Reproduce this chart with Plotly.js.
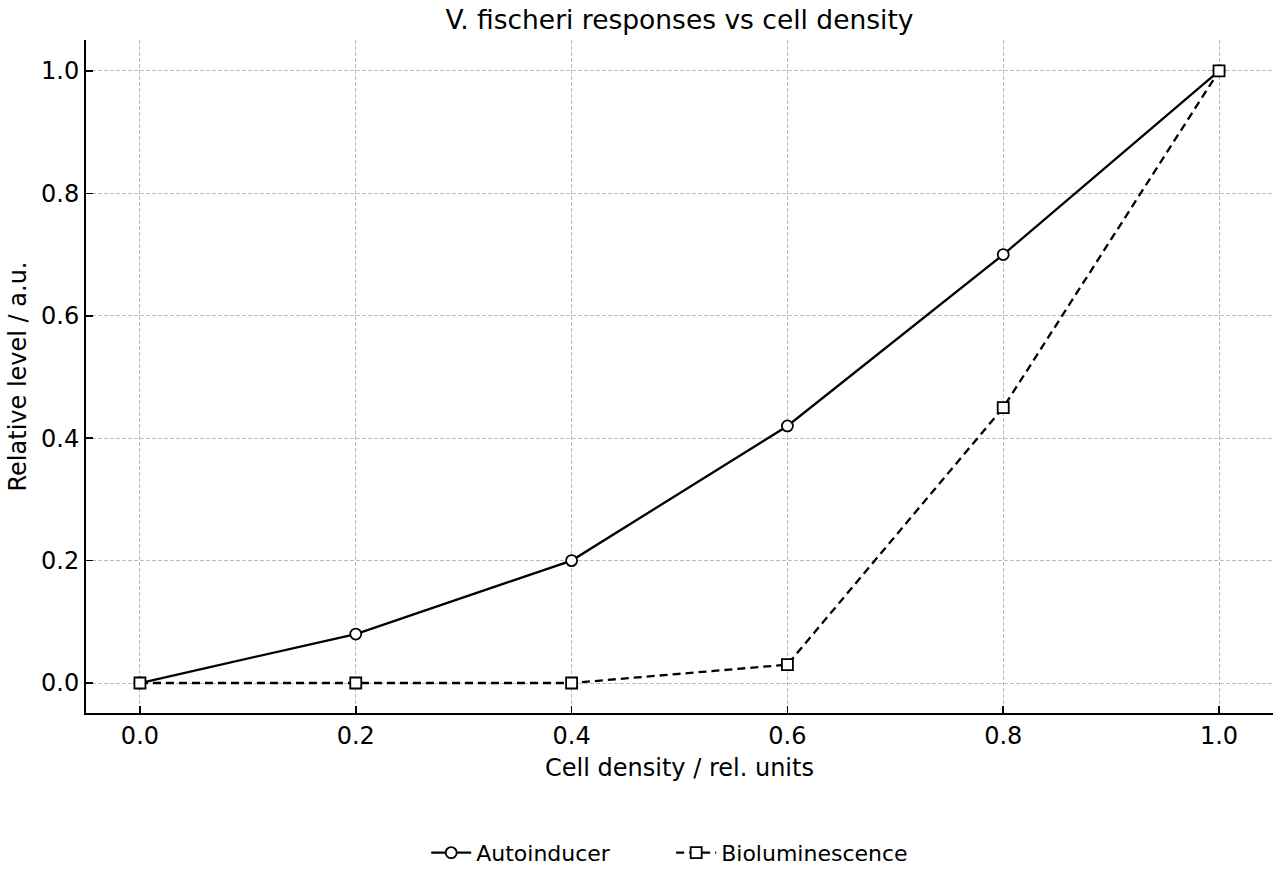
<!DOCTYPE html>
<html>
<head>
<meta charset="utf-8">
<script src="https://cdn.plot.ly/plotly-3.0.1.min.js"></script>
<style>html,body{margin:0;padding:0;background:#fff;}#chart{width:1280px;height:880px;}</style>
</head>
<body>
<div id="chart"></div>
<script>
const cellDensity = [0.0, 0.2, 0.4, 0.6, 0.8, 1.0];
const autoinducer = [0.0, 0.08, 0.20, 0.42, 0.70, 1.0];
const bioluminescence = [0.0, 0.0, 0.0, 0.03, 0.45, 1.0];
const tickVals = [0.0, 0.2, 0.4, 0.6, 0.8, 1.0];
const tickText = ['0.0', '0.2', '0.4', '0.6', '0.8', '1.0'];

const font = 'DejaVu Sans, sans-serif';

const traces = [
  {
    x: cellDensity, y: autoinducer, name: 'Autoinducer',
    mode: 'lines+markers', type: 'scatter',
    line: {color: '#000', width: 2.3},
    marker: {symbol: 'circle', size: 11, color: '#fff', line: {color: '#000', width: 1.8}}
  },
  {
    x: cellDensity, y: bioluminescence, name: 'Bioluminescence',
    mode: 'lines+markers', type: 'scatter',
    line: {color: '#000', width: 2.3, dash: '8px,5px'},
    marker: {symbol: 'square', size: 11, color: '#fff', line: {color: '#000', width: 1.8}}
  }
];

const axisCommon = {
  showline: true, linecolor: '#000', linewidth: 2,
  ticks: 'inside', ticklen: 7, tickwidth: 1.5, tickcolor: '#000',
  showgrid: true, gridcolor: '#bdbdbd', gridwidth: 1, griddash: '4px,2px',
  zeroline: false, mirror: false,
  tickfont: {family: font, size: 24, color: '#000'},
  tickvals: tickVals, ticktext: tickText
};

const layout = {
  width: 1280, height: 880,
  paper_bgcolor: '#fff', plot_bgcolor: '#fff',
  margin: {l: 86, r: 7, t: 40, b: 166},
  font: {family: font, color: '#000'},
  title: {text: 'V. fischeri responses vs cell density', font: {family: font, size: 26.5, color: '#000'},
    xref: 'paper', x: 0.5, xanchor: 'center', y: 0.978, yanchor: 'middle'},
  xaxis: Object.assign({}, axisCommon, {
    range: [-0.05, 1.05],
    title: {text: 'Cell density / rel. units', font: {family: font, size: 24, color: '#000'}, standoff: 10}
  }),
  yaxis: Object.assign({}, axisCommon, {
    range: [-0.049, 1.0506],
    title: {text: 'Relative level / a.u.', font: {family: font, size: 24, color: '#000'}, standoff: 8}
  }),
  showlegend: true,
  legend: {orientation: 'h', x: 0.493, xanchor: 'center', y: -0.206, yanchor: 'middle',
    font: {family: font, size: 22, color: '#000'}, bgcolor: 'rgba(0,0,0,0)', itemwidth: 40,
    entrywidth: 190, entrywidthmode: 'pixels'}
};

Plotly.newPlot('chart', traces, layout, {displayModeBar: false, staticPlot: true});
</script>
</body>
</html>
